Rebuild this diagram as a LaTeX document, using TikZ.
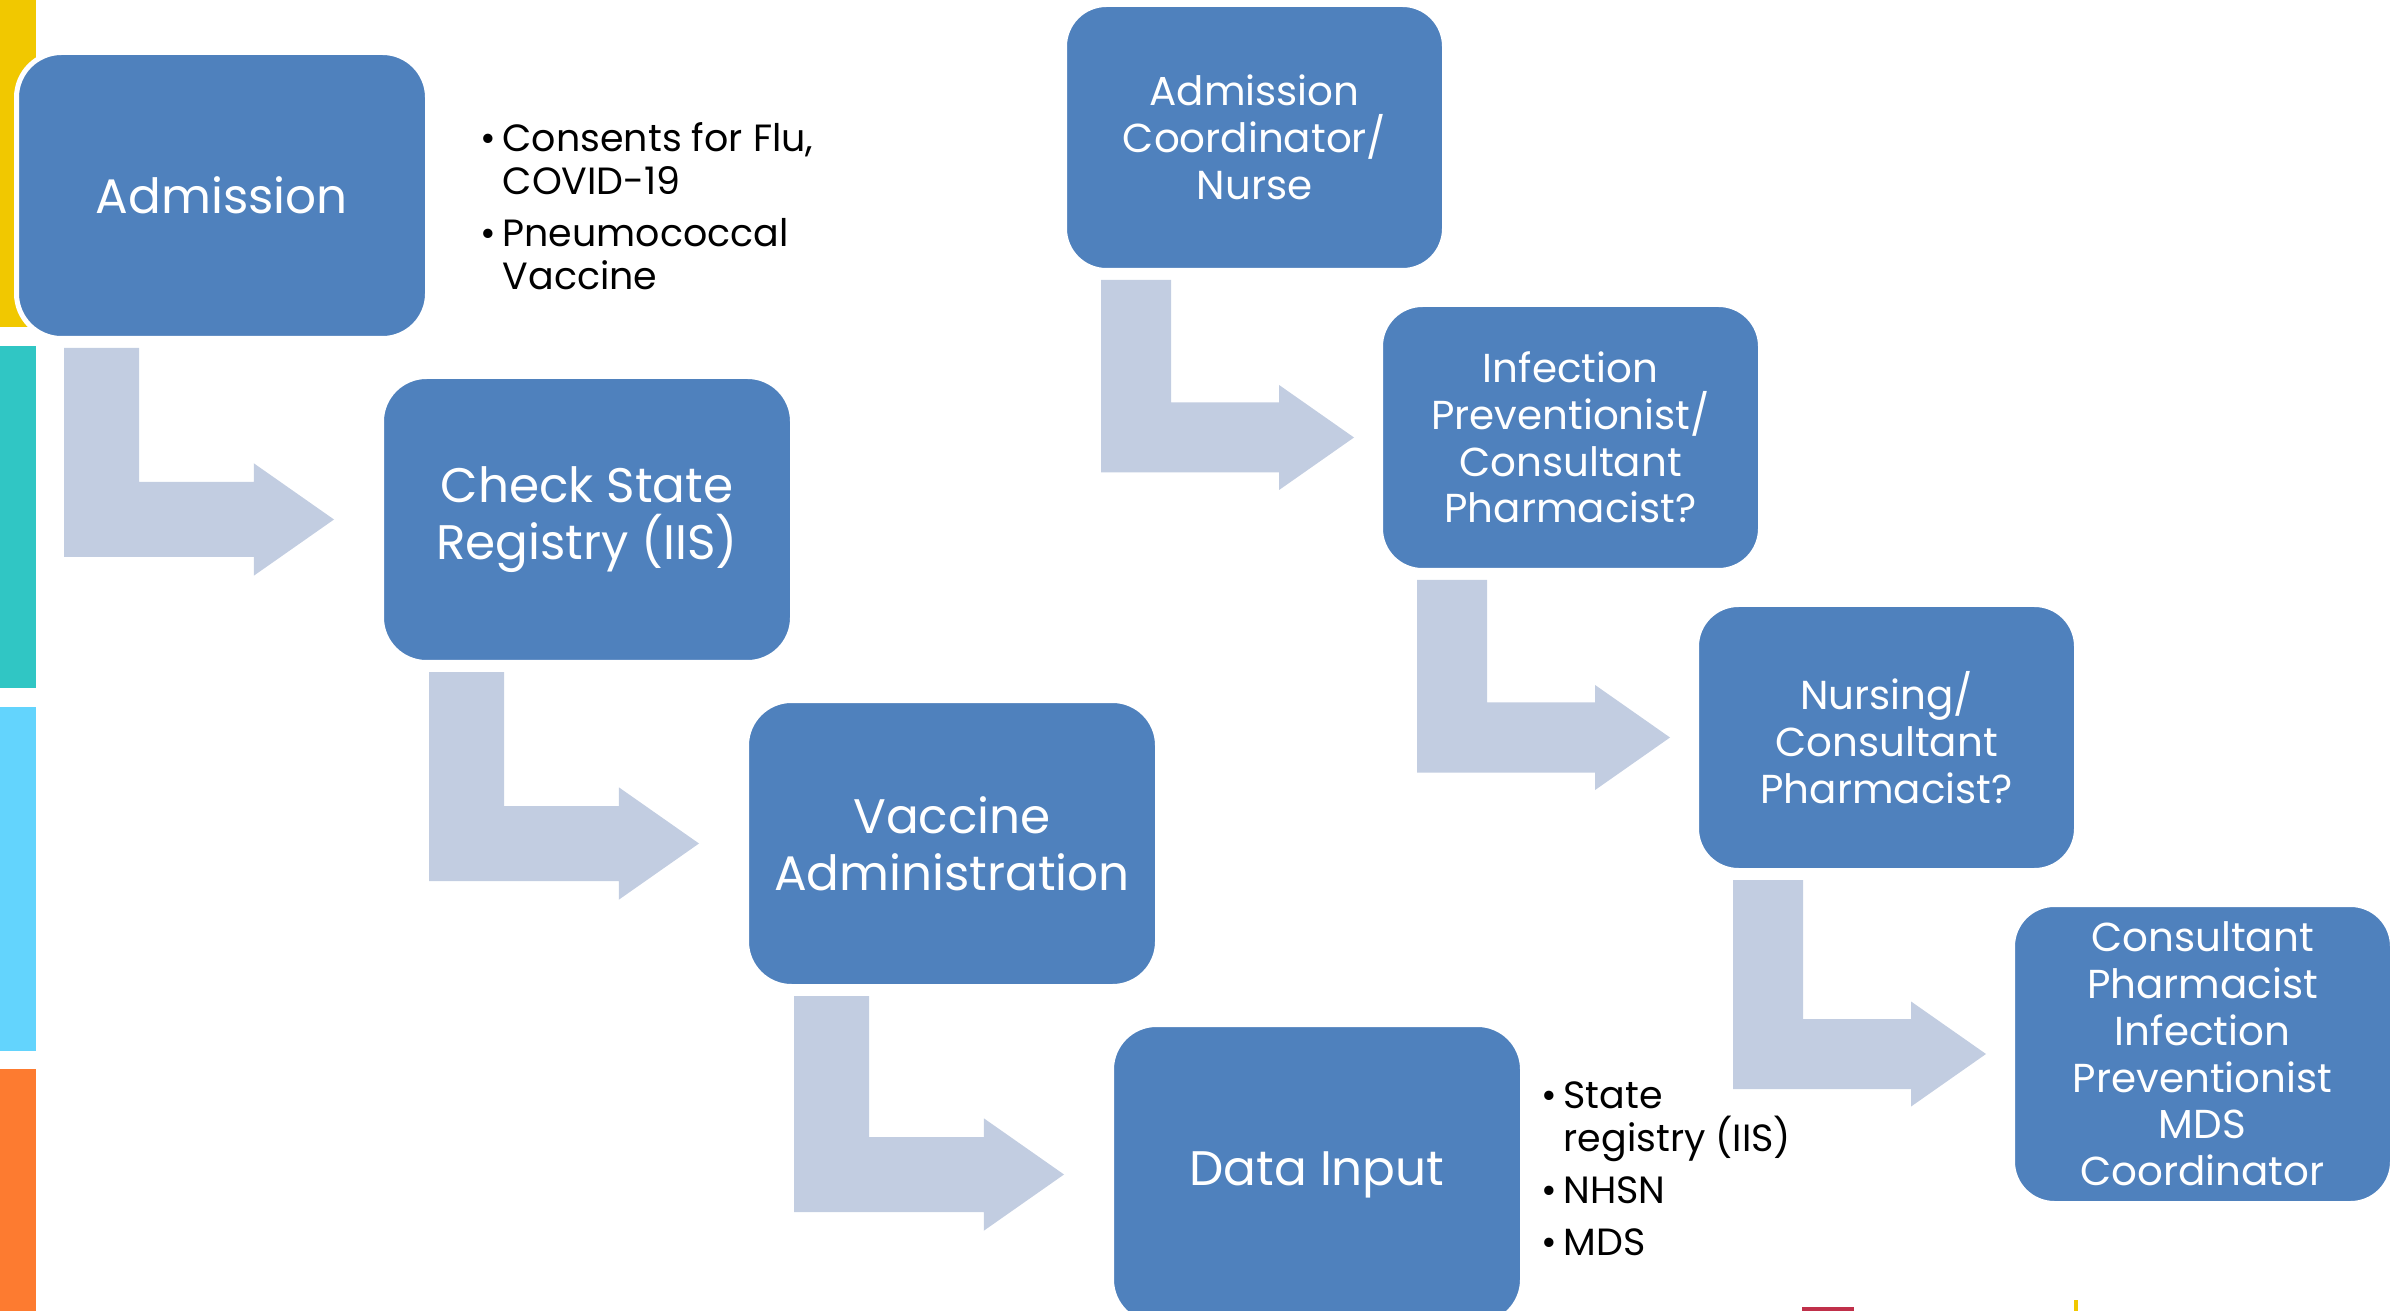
\documentclass[tikz,border=0pt]{standalone}
\usepackage{fontspec}
\setmainfont{Poppins}
\usepackage{tikz}
\usetikzlibrary{positioning,calc}

\definecolor{boxblue}{HTML}{4F81BD}
\definecolor{bendgrey}{HTML}{C2CDE1}
\definecolor{baryellow}{HTML}{F1C800}
\definecolor{barteal}{HTML}{30C6C4}
\definecolor{barsky}{HTML}{63D4FD}
\definecolor{barorange}{HTML}{FD7B30}
\definecolor{logored}{HTML}{C0304A}

% L-shaped block arrow: from, to, inset, shaft width, tip gap
\newcommand{\bendarrow}[5]{%
  \fill[bendgrey] let \p1=($(#1.south west)+(#3,-0.07)$), \p2=($(#2.west)+(-#5,0)$) in
    (\x1,\y1) -- (\x1+#4cm,\y1) -- (\x1+#4cm,\y2+#4cm/2) -- (\x2-1.07*#4cm,\y2+#4cm/2)
    -- (\x2-1.07*#4cm,\y2+0.75*#4cm) -- (\x2,\y2) -- (\x2-1.07*#4cm,\y2-0.75*#4cm)
    -- (\x2-1.07*#4cm,\y2-#4cm/2) -- (\x1,\y2-#4cm/2) -- cycle;}

\begin{document}
\begin{tikzpicture}[
	bigbox/.style={rectangle, rounded corners=0.45cm, fill=boxblue, draw=white, line width=0.05cm,
		minimum width=4.11cm, minimum height=2.86cm, inner sep=0pt, text=white, align=center,
		font=\fontsize{13.8}{16.2}\selectfont},
	smallbox/.style={rectangle, rounded corners=0.42cm, fill=boxblue, draw=white, line width=0.05cm,
		minimum width=3.80cm, minimum height=2.66cm, inner sep=0pt, text=white, align=center,
		font=\fontsize{11.5}{13.3}\selectfont},
	bullets/.style={inner sep=0pt, align=left, anchor=west, font=\fontsize{10.8}{12.2}\selectfont}
]
	\useasboundingbox (0,0) rectangle (23.95,-13.11);
	\clip (0,0) rectangle (23.95,-13.11);

	%Side bars
	\fill[baryellow] (0,0) rectangle (0.36,-3.27);
	\fill[barteal] (0,-3.46) rectangle (0.36,-6.88);
	\fill[barsky] (0,-7.07) rectangle (0.36,-10.51);
	\fill[barorange] (0,-10.69) rectangle (0.36,-13.11);

	%Process
	\node[bigbox, anchor=north west] (adm) at (0.14,-0.50) {Admission};
	\node[bigbox, below right=0.33cm and -0.51cm of adm] (iis) {Check State\\Registry (IIS)};
	\node[bigbox, below right=0.33cm and -0.51cm of iis] (vac) {Vaccine\\Administration};
	\node[bigbox, minimum height=3.0cm, below right=0.33cm and -0.51cm of vac] (data) {Data Input};
	\bendarrow{adm}{iis}{0.50}{0.75}{0.45}
	\bendarrow{iis}{vac}{0.50}{0.75}{0.45}
	\bendarrow{vac}{data}{0.50}{0.75}{0.45}

	\node[bullets] (consents) at (5.02,-2.06) {\llap{\textbullet\,}Consents for Flu,\\COVID-19\\[2.6pt]\llap{\textbullet\,}Pneumococcal\\Vaccine};
	\node[bullets] (systems) at (15.63,-11.69) {\llap{\textbullet\,}State\\registry (IIS)\\[2.6pt]\llap{\textbullet\,}NHSN\\[2.6pt]\llap{\textbullet\,}MDS};

	%Roles
	\node[smallbox, anchor=north west] (coord) at (10.62,-0.02) {Admission\\Coordinator/\\Nurse};
	\node[smallbox, below right=0.29cm and -0.69cm of coord] (ip) {Infection\\Preventionist/\\Consultant\\Pharmacist?};
	\node[smallbox, below right=0.29cm and -0.69cm of ip] (nurs) {Nursing/\\Consultant\\Pharmacist?};
	\node[smallbox, minimum height=2.99cm, below right=0.29cm and -0.69cm of nurs] (team) {Consultant\\Pharmacist\\Infection\\Preventionist\\MDS\\Coordinator};
	\bendarrow{coord}{ip}{0.39}{0.70}{0.24}
	\bendarrow{ip}{nurs}{0.39}{0.70}{0.24}
	\bendarrow{nurs}{team}{0.39}{0.70}{0.24}

	%Logo edge
	\fill[logored] (18.02,-13.07) rectangle (18.54,-13.11);
	\fill[baryellow] (20.74,-13.00) rectangle (20.78,-13.11);
\end{tikzpicture}
\end{document}
